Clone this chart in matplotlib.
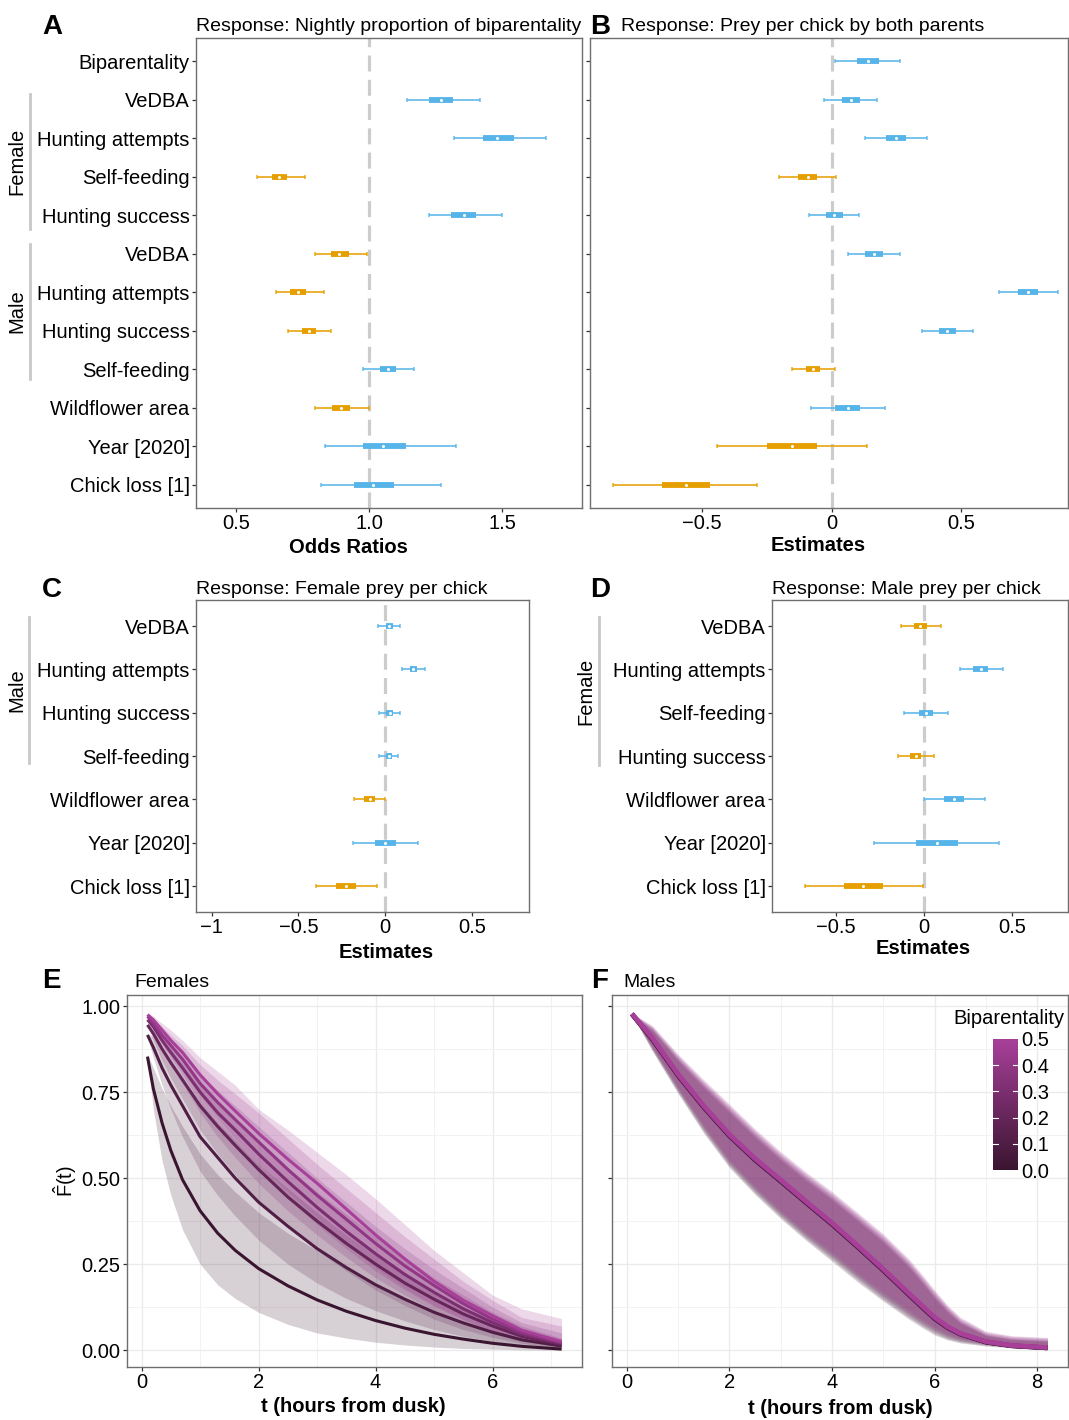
import numpy as np
import matplotlib
matplotlib.use("Agg")
import matplotlib.pyplot as plt
from matplotlib.colors import LinearSegmentedColormap
from matplotlib.lines import Line2D

plt.rcParams['font.family'] = ['Liberation Sans', 'DejaVu Sans']
plt.rcParams['mathtext.fontset'] = 'custom'
plt.rcParams['mathtext.rm'] = 'Liberation Sans'
plt.rcParams['mathtext.it'] = 'Liberation Sans'
plt.rcParams['mathtext.bf'] = 'Liberation Sans:bold'

W, H = 1069, 1420

# ---- panel A / B : nightly biparentality, prey per chick by both parents ----
labels_ab = ["Biparentality", "VeDBA", "Hunting attempts", "Self-feeding", "Hunting success",
             "VeDBA", "Hunting attempts", "Hunting success", "Self-feeding",
             "Wildflower area", "Year [2020]", "Chick loss [1]"]

a_est = [np.nan, 1.272, 1.482, 0.663, 1.355, 0.888, 0.733, 0.773, 1.070, 0.894, 1.054, 1.016]
a_lo = [np.nan, 1.144, 1.321, 0.580, 1.224, 0.798, 0.649, 0.697, 0.979, 0.798, 0.836, 0.821]
a_hi = [np.nan, 1.415, 1.664, 0.758, 1.499, 0.991, 0.830, 0.858, 1.169, 1.001, 1.327, 1.270]
a_blo = [np.nan, 1.227, 1.427, 0.635, 1.309, 0.857, 0.703, 0.747, 1.040, 0.861, 0.977, 0.945]
a_bhi = [np.nan, 1.317, 1.543, 0.693, 1.402, 0.924, 0.764, 0.801, 1.103, 0.929, 1.139, 1.094]

b_est = [0.140, 0.073, 0.247, -0.092, 0.010, 0.163, 0.756, 0.445, -0.070, 0.062, -0.151, -0.562]
b_lo = [0.015, -0.029, 0.128, -0.204, -0.086, 0.062, 0.645, 0.347, -0.153, -0.081, -0.441, -0.840]
b_hi = [0.262, 0.174, 0.368, 0.018, 0.106, 0.263, 0.871, 0.544, 0.012, 0.206, 0.137, -0.287]
b_blo = [0.099, 0.040, 0.208, -0.130, -0.022, 0.129, 0.719, 0.412, -0.097, 0.014, -0.249, -0.653]
b_bhi = [0.181, 0.108, 0.288, -0.055, 0.044, 0.196, 0.795, 0.479, -0.043, 0.109, -0.055, -0.469]

# ---- panel C : female prey per chick ----
labels_c = ["VeDBA", "Hunting attempts", "Hunting success", "Self-feeding",
            "Wildflower area", "Year [2020]", "Chick loss [1]"]
c_est = [0.023, 0.164, 0.027, 0.021, -0.088, 0.002, -0.223]
c_lo = [-0.040, 0.098, -0.036, -0.035, -0.179, -0.185, -0.398]
c_hi = [0.089, 0.229, 0.089, 0.075, 0.0, 0.190, -0.046]
c_blo = [0.004, 0.143, 0.008, 0.004, -0.119, -0.059, -0.280]
c_bhi = [0.044, 0.185, 0.046, 0.039, -0.059, 0.066, -0.165]

# ---- panel D : male prey per chick ----
labels_d = ["VeDBA", "Hunting attempts", "Self-feeding", "Hunting success",
            "Wildflower area", "Year [2020]", "Chick loss [1]"]
d_est = [-0.021, 0.324, 0.011, -0.047, 0.170, 0.074, -0.347]
d_lo = [-0.132, 0.203, -0.114, -0.148, 0.0, -0.282, -0.676]
d_hi = [0.095, 0.449, 0.135, 0.055, 0.345, 0.426, -0.007]
d_blo = [-0.059, 0.282, -0.030, -0.081, 0.114, -0.043, -0.456]
d_bhi = [0.017, 0.364, 0.053, -0.015, 0.230, 0.191, -0.233]

# ---- panel E : females, F(t) by biparentality level ----
bip_levels = [0.0, 0.1, 0.2, 0.3, 0.4, 0.5]
t_fem = [0.1, 0.2, 0.35, 0.5, 0.7, 1.0, 1.3, 1.6, 2.0, 2.5, 3.0, 3.5, 4.0, 4.5, 5.0, 5.5, 6.0, 6.5, 7.18]
fem_mean = [
    [0.853, 0.76, 0.66, 0.58, 0.495, 0.405, 0.34, 0.29, 0.237, 0.187, 0.146, 0.113, 0.086, 0.064, 0.046, 0.032, 0.020, 0.011, 0.003],
    [0.916, 0.88, 0.82, 0.77, 0.71, 0.62, 0.56, 0.50, 0.43, 0.36, 0.295, 0.24, 0.19, 0.148, 0.11, 0.079, 0.052, 0.03, 0.012],
    [0.945, 0.92, 0.875, 0.835, 0.785, 0.71, 0.65, 0.595, 0.525, 0.445, 0.375, 0.31, 0.25, 0.195, 0.148, 0.105, 0.07, 0.04, 0.016],
    [0.96, 0.94, 0.90, 0.865, 0.82, 0.75, 0.69, 0.64, 0.57, 0.49, 0.415, 0.345, 0.28, 0.22, 0.168, 0.12, 0.08, 0.046, 0.02],
    [0.97, 0.95, 0.915, 0.885, 0.845, 0.775, 0.72, 0.67, 0.605, 0.525, 0.45, 0.38, 0.31, 0.245, 0.188, 0.135, 0.09, 0.052, 0.022],
    [0.975, 0.96, 0.93, 0.90, 0.865, 0.80, 0.745, 0.695, 0.63, 0.555, 0.485, 0.41, 0.335, 0.265, 0.20, 0.145, 0.10, 0.058, 0.025],
]
fem_lo = [
    [0.85, 0.70, 0.55, 0.45, 0.35, 0.25, 0.19, 0.15, 0.11, 0.075, 0.05, 0.035, 0.023, 0.015, 0.009, 0.005, 0.003, 0.001, 0.0],
    [0.91, 0.85, 0.77, 0.70, 0.62, 0.52, 0.45, 0.39, 0.32, 0.25, 0.195, 0.15, 0.115, 0.085, 0.06, 0.04, 0.025, 0.013, 0.004],
    [0.94, 0.90, 0.84, 0.79, 0.73, 0.64, 0.57, 0.51, 0.43, 0.36, 0.29, 0.23, 0.175, 0.13, 0.09, 0.06, 0.037, 0.02, 0.006],
    [0.955, 0.925, 0.875, 0.83, 0.775, 0.69, 0.62, 0.56, 0.485, 0.405, 0.335, 0.27, 0.21, 0.16, 0.115, 0.078, 0.048, 0.026, 0.009],
    [0.965, 0.935, 0.89, 0.85, 0.80, 0.72, 0.655, 0.595, 0.52, 0.44, 0.365, 0.295, 0.23, 0.175, 0.128, 0.088, 0.053, 0.028, 0.01],
    [0.97, 0.94, 0.90, 0.865, 0.815, 0.74, 0.675, 0.615, 0.54, 0.46, 0.385, 0.31, 0.24, 0.18, 0.13, 0.09, 0.055, 0.03, 0.011],
]
fem_hi = [
    [0.86, 0.82, 0.76, 0.71, 0.65, 0.57, 0.51, 0.46, 0.40, 0.34, 0.29, 0.24, 0.19, 0.15, 0.11, 0.08, 0.05, 0.03, 0.015],
    [0.92, 0.91, 0.87, 0.83, 0.79, 0.72, 0.66, 0.61, 0.54, 0.47, 0.40, 0.335, 0.275, 0.22, 0.17, 0.125, 0.09, 0.055, 0.025],
    [0.95, 0.94, 0.905, 0.875, 0.835, 0.77, 0.72, 0.67, 0.61, 0.53, 0.46, 0.395, 0.33, 0.27, 0.21, 0.16, 0.11, 0.07, 0.035],
    [0.965, 0.955, 0.925, 0.895, 0.86, 0.80, 0.755, 0.71, 0.65, 0.575, 0.50, 0.43, 0.36, 0.295, 0.235, 0.18, 0.125, 0.08, 0.05],
    [0.975, 0.965, 0.94, 0.915, 0.885, 0.83, 0.785, 0.745, 0.69, 0.615, 0.54, 0.47, 0.40, 0.33, 0.265, 0.20, 0.145, 0.095, 0.07],
    [0.98, 0.97, 0.95, 0.93, 0.90, 0.85, 0.81, 0.77, 0.70, 0.64, 0.575, 0.51, 0.44, 0.365, 0.29, 0.225, 0.16, 0.12, 0.092],
]

# ---- panel F : males ----
t_mal = [0.1, 0.5, 1, 1.5, 2, 2.5, 3, 3.5, 4, 4.5, 5, 5.5, 5.75, 6, 6.25, 6.5, 7, 7.5, 8.2]
mal_mean = [
    [0.976, 0.902, 0.797, 0.705, 0.622, 0.552, 0.490, 0.427, 0.365, 0.299, 0.231, 0.160, 0.125, 0.091, 0.065, 0.046, 0.023, 0.012, 0.006],
    [0.976, 0.903, 0.798, 0.706, 0.623, 0.553, 0.491, 0.428, 0.366, 0.300, 0.232, 0.161, 0.126, 0.092, 0.066, 0.047, 0.023, 0.013, 0.006],
    [0.977, 0.904, 0.799, 0.707, 0.624, 0.554, 0.492, 0.429, 0.367, 0.301, 0.233, 0.162, 0.127, 0.093, 0.066, 0.047, 0.024, 0.013, 0.007],
    [0.977, 0.905, 0.800, 0.708, 0.625, 0.555, 0.493, 0.430, 0.368, 0.302, 0.234, 0.163, 0.128, 0.094, 0.067, 0.048, 0.024, 0.013, 0.007],
    [0.977, 0.906, 0.801, 0.709, 0.626, 0.556, 0.494, 0.431, 0.369, 0.303, 0.235, 0.164, 0.129, 0.095, 0.068, 0.048, 0.025, 0.014, 0.007],
    [0.978, 0.907, 0.802, 0.710, 0.627, 0.557, 0.495, 0.432, 0.370, 0.304, 0.236, 0.165, 0.130, 0.096, 0.069, 0.049, 0.025, 0.014, 0.008],
]
mal_lo = [
    [0.975, 0.868, 0.745, 0.630, 0.530, 0.452, 0.382, 0.318, 0.258, 0.198, 0.142, 0.090, 0.066, 0.044, 0.030, 0.021, 0.012, 0.007, 0.004],
    [0.975, 0.871, 0.749, 0.635, 0.535, 0.457, 0.387, 0.323, 0.264, 0.204, 0.147, 0.095, 0.071, 0.049, 0.033, 0.024, 0.014, 0.008, 0.005],
    [0.975, 0.874, 0.753, 0.640, 0.540, 0.462, 0.392, 0.328, 0.270, 0.210, 0.153, 0.101, 0.076, 0.054, 0.037, 0.027, 0.016, 0.010, 0.007],
    [0.976, 0.877, 0.757, 0.645, 0.545, 0.467, 0.397, 0.333, 0.275, 0.215, 0.158, 0.106, 0.081, 0.059, 0.041, 0.030, 0.018, 0.012, 0.009],
    [0.976, 0.880, 0.761, 0.650, 0.550, 0.472, 0.402, 0.338, 0.281, 0.220, 0.164, 0.112, 0.086, 0.064, 0.045, 0.033, 0.020, 0.014, 0.011],
    [0.976, 0.883, 0.765, 0.655, 0.555, 0.477, 0.407, 0.343, 0.287, 0.226, 0.170, 0.117, 0.091, 0.069, 0.049, 0.036, 0.022, 0.016, 0.013],
]
mal_hi = [
    [0.977, 0.928, 0.840, 0.762, 0.690, 0.618, 0.552, 0.492, 0.436, 0.375, 0.313, 0.240, 0.196, 0.150, 0.110, 0.078, 0.042, 0.030, 0.025],
    [0.977, 0.931, 0.844, 0.767, 0.695, 0.623, 0.557, 0.497, 0.441, 0.380, 0.318, 0.245, 0.201, 0.155, 0.115, 0.081, 0.044, 0.032, 0.027],
    [0.978, 0.934, 0.848, 0.772, 0.700, 0.628, 0.562, 0.502, 0.446, 0.385, 0.323, 0.250, 0.206, 0.160, 0.119, 0.084, 0.046, 0.034, 0.029],
    [0.978, 0.937, 0.852, 0.776, 0.705, 0.633, 0.567, 0.507, 0.451, 0.390, 0.328, 0.255, 0.211, 0.165, 0.123, 0.088, 0.049, 0.037, 0.032],
    [0.979, 0.940, 0.856, 0.781, 0.710, 0.638, 0.572, 0.512, 0.456, 0.395, 0.333, 0.260, 0.216, 0.170, 0.127, 0.092, 0.052, 0.040, 0.035],
    [0.979, 0.943, 0.860, 0.786, 0.715, 0.643, 0.577, 0.517, 0.461, 0.400, 0.338, 0.265, 0.221, 0.175, 0.131, 0.096, 0.055, 0.042, 0.037],
]

# colours
blue = "#56B4E9"
orange = "#E69F00"
bip_cmap = LinearSegmentedColormap.from_list("bip", ["#3a1530", "#a8409a"])
txt = 14.5


def fig_pos(left, top, right, bottom):
    return [left / W, 1 - bottom / H, (right - left) / W, (bottom - top) / H]


def px_text(x, y, s, **kw):
    fig.text(x / W, 1 - y / H, s, **kw)


def style_frame(ax):
    for sp in ax.spines.values():
        sp.set_color("#6e6e6e")
        sp.set_linewidth(1.0)
    ax.tick_params(axis="both", length=3, width=0.9, color="#333333",
                   labelsize=txt, pad=1.5, labelcolor="black")


def forest(ax, labels, est, lo, hi, blo, bhi, ref, xlim, xticks, xticklabels, show_labels=True):
    n = len(labels)
    ax.axvline(ref, color="#cccccc", lw=2.3, ls=(0, (5, 2.6)), zorder=1)
    for i in range(n):
        if np.isnan(est[i]):
            continue
        c = blue if est[i] > ref else orange
        ax.plot([lo[i], hi[i]], [i, i], color=c, lw=1.4, alpha=0.8,
                solid_capstyle="butt", zorder=2)
        ax.plot([lo[i], hi[i]], [i, i], ls="none", marker="|", ms=3.5, mew=1.2,
                color=c, alpha=0.8, zorder=2)
        ax.plot([blo[i], bhi[i]], [i, i], color=c, lw=4.2,
                solid_capstyle="butt", zorder=3)
        ax.plot(est[i], i, "o", ms=2.2, color="white", mec="none", zorder=4)
    ax.set_ylim(n - 1 + 0.6, -0.6)
    ax.set_yticks(range(n))
    if show_labels:
        ax.set_yticklabels(labels)
    else:
        ax.set_yticklabels([])
    ax.set_xlim(*xlim)
    ax.set_xticks(xticks)
    ax.set_xticklabels(xticklabels)
    style_frame(ax)


def group_bracket(ax, x_line, x_text, row0, row1, label):
    # vertical grey line + rotated group label, x in pixels, y in data rows
    tr = matplotlib.transforms.blended_transform_factory(fig.transFigure, ax.transData)
    ax.add_line(Line2D([x_line / W, x_line / W], [row0, row1], transform=tr,
                       color="#c8c8c8", lw=2, clip_on=False))
    ax.text(x_text / W, (row0 + row1) / 2, label, transform=tr, rotation=90,
            ha="center", va="center", fontsize=txt, clip_on=False)


def survival(ax, t, means, los, his, xlim, xticks, xminor, show_ylabels=True, lw=2.2):
    for g in range(len(bip_levels)):
        col = bip_cmap(bip_levels[g] / 0.5)
        ax.fill_between(t, los[g], his[g], color=col, alpha=0.2, lw=0, zorder=2)
    for g in range(len(bip_levels)):
        col = bip_cmap(bip_levels[g] / 0.5)
        ax.plot(t, means[g], color=col, lw=lw, zorder=3, solid_capstyle="butt")
    ax.set_xlim(*xlim)
    ax.set_ylim(-0.049, 1.032)
    ax.set_xticks(xticks)
    ax.set_xticks(xminor, minor=True)
    ax.set_yticks([0, 0.25, 0.5, 0.75, 1.0])
    ax.set_yticks([0.125, 0.375, 0.625, 0.875], minor=True)
    ax.grid(True, which="major", color="#ebebeb", lw=1.0, zorder=0)
    ax.grid(True, which="minor", color="#f2f2f2", lw=0.7, zorder=0)
    ax.set_axisbelow(True)
    if show_ylabels:
        ax.set_yticklabels(["0.00", "0.25", "0.50", "0.75", "1.00"])
    else:
        ax.set_yticklabels([])
    style_frame(ax)
    ax.tick_params(which="minor", length=0)


fig = plt.figure(figsize=(W / 100, H / 100), dpi=100)

# A
ax_a = fig.add_axes(fig_pos(196, 38, 582, 508))
forest(ax_a, labels_ab, a_est, a_lo, a_hi, a_blo, a_bhi, 1.0, (0.35, 1.80),
       [0.5, 1.0, 1.5], ["0.5", "1.0", "1.5"])
group_bracket(ax_a, 30, 17, 0.85, 4.35, "Female")
group_bracket(ax_a, 30, 17, 4.75, 8.25, "Male")

# B
ax_b = fig.add_axes(fig_pos(590, 38, 1068, 508))
forest(ax_b, labels_ab, b_est, b_lo, b_hi, b_blo, b_bhi, 0.0, (-0.93, 0.91),
       [-0.5, 0, 0.5], ["\u22120.5", "0", "0.5"], show_labels=False)

# C
ax_c = fig.add_axes(fig_pos(196, 600, 529, 912))
forest(ax_c, labels_c, c_est, c_lo, c_hi, c_blo, c_bhi, 0.0, (-1.09, 0.83),
       [-1, -0.5, 0, 0.5], ["\u22121", "\u22120.5", "0", "0.5"])
group_bracket(ax_c, 29, 17, -0.2, 3.15, "Male")

# D
ax_d = fig.add_axes(fig_pos(772, 600, 1068, 912))
forest(ax_d, labels_d, d_est, d_lo, d_hi, d_blo, d_bhi, 0.0, (-0.865, 0.82),
       [-0.5, 0, 0.5], ["\u22120.5", "0", "0.5"])
group_bracket(ax_d, 599, 586, -0.2, 3.2, "Female")

# E
ax_e = fig.add_axes(fig_pos(127, 995, 582, 1367))
survival(ax_e, t_fem, fem_mean, fem_lo, fem_hi, (-0.25, 7.53), [0, 2, 4, 6], [1, 3, 5, 7])
ax_e.set_ylabel(r"$\hat{F}(t)$", fontsize=txt, labelpad=2)

# F
ax_f = fig.add_axes(fig_pos(612, 995, 1068, 1367))
survival(ax_f, t_mal, mal_mean, mal_lo, mal_hi, (-0.29, 8.6), [0, 2, 4, 6, 8], [1, 3, 5, 7],
         show_ylabels=False, lw=3.2)

# colour bar legend inside F
ax_cb = fig.add_axes(fig_pos(993, 1039, 1018, 1170))
grad = np.linspace(0, 0.5, 256).reshape(-1, 1)
ax_cb.imshow(grad, cmap=bip_cmap, aspect="auto", origin="lower", extent=[0, 1, 0, 0.5])
ax_cb.set_xticks([])
ax_cb.set_yticks(bip_levels)
ax_cb.set_yticklabels(["0.0", "0.1", "0.2", "0.3", "0.4", "0.5"])
ax_cb.yaxis.tick_right()
ax_cb.tick_params(axis="y", length=0, pad=2, labelsize=txt)
for lv in bip_levels[1:-1]:
    ax_cb.plot([0, 0.2], [lv, lv], color="white", lw=0.8)
    ax_cb.plot([0.8, 1], [lv, lv], color="white", lw=0.8)
for sp in ax_cb.spines.values():
    sp.set_visible(False)
px_text(953, 1018, "Biparentality", fontsize=txt, ha="left", va="center")

# panel letters and titles
for x, y, s in [(42, 34, "A"), (590, 34, "B"), (42, 597, "C"), (590, 597, "D"),
                (42, 988, "E"), (591, 988, "F")]:
    px_text(x, y, s, fontsize=20, fontweight="bold", ha="left", va="baseline")

px_text(196, 31, "Response: Nightly proportion of biparentality", fontsize=14, va="baseline")
px_text(621, 31, "Response: Prey per chick by both parents", fontsize=14, va="baseline")
px_text(196, 594, "Response: Female prey per chick", fontsize=14, va="baseline")
px_text(772, 594, "Response: Male prey per chick", fontsize=14, va="baseline")
px_text(134, 987, "Females", fontsize=14, va="baseline")
px_text(623, 987, "Males", fontsize=14, va="baseline")

# axis titles
bold = dict(fontsize=txt, fontweight="bold", ha="center", va="center")
px_text(348, 547, "Odds Ratios", **bold)
px_text(818, 545, "Estimates", **bold)
px_text(386, 953, "Estimates", **bold)
px_text(923, 948, "Estimates", **bold)
px_text(353, 1407, "t (hours from dusk)", **bold)
px_text(840, 1408, "t (hours from dusk)", **bold)

fig.savefig("out.png", dpi=100)
